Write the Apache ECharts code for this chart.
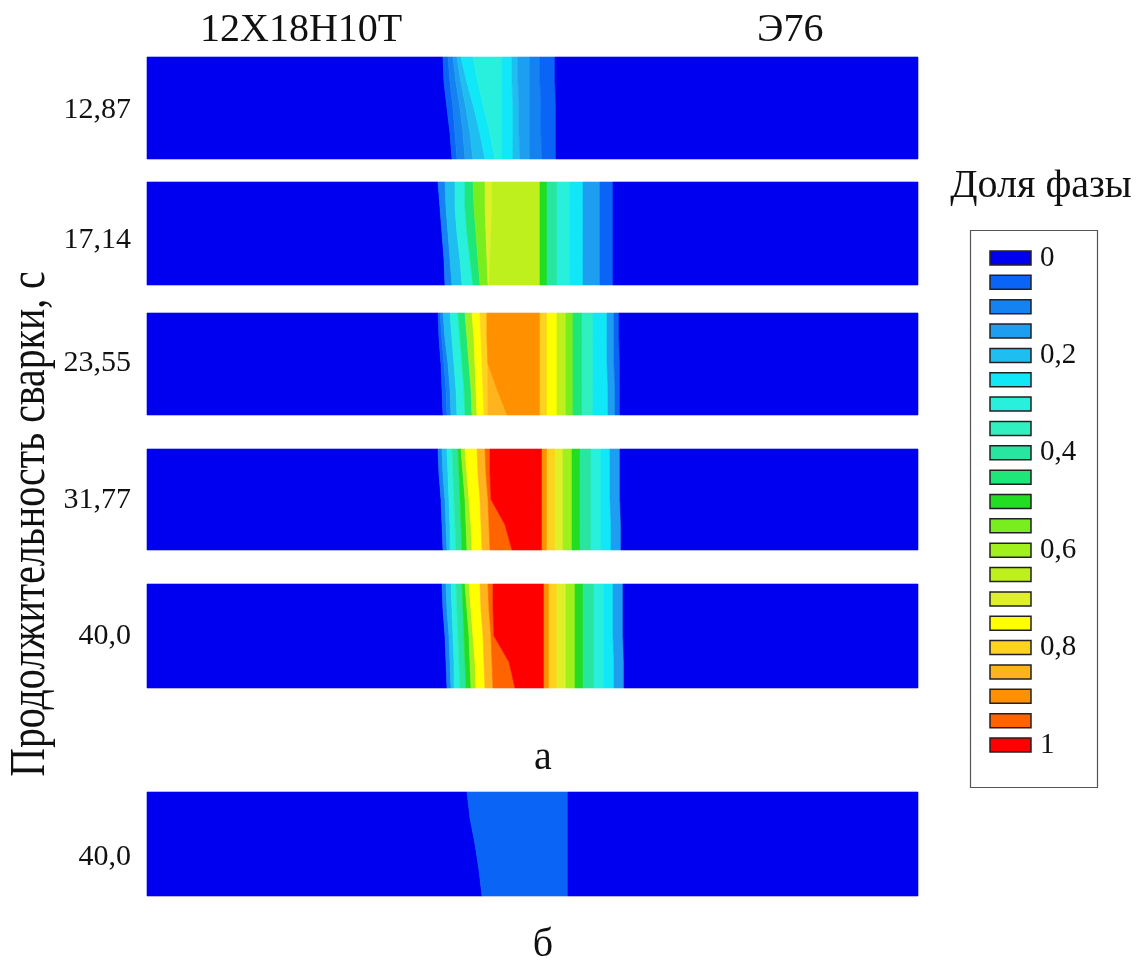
<!DOCTYPE html>
<html>
<head>
<meta charset="utf-8">
<script src="https://cdn.jsdelivr.net/npm/echarts@6/dist/echarts.min.js"></script>
<style>
  html, body { margin: 0; padding: 0; background: #ffffff; }
  #chart { width: 1144px; height: 964px; }
</style>
</head>
<body>
<div id="chart"></div>
<script>
// ---- data -----------------------------------------------------------------
// Heads of the two welded steels
const materials = ['12Х18Н10Т', 'Э76'];
// Welding time of each strip, s
const timeLabels = ['12,87', '17,14', '23,55', '31,77', '40,0', '40,0'];
// Phase-fraction classes of the colour scale and its tick labels
const scaleLevels = [0, 0.05, 0.1, 0.15, 0.2, 0.25, 0.3, 0.35, 0.4, 0.45, 0.5,
                     0.55, 0.6, 0.65, 0.7, 0.75, 0.8, 0.85, 0.9, 0.95, 1];
const scaleTicks = ['0', '0,2', '0,4', '0,6', '0,8', '1'];
const scaleTickIdx = [0, 4, 8, 12, 16, 20];

// Heights (fraction of strip thickness) at which contour positions are given
const ySamples = [1, 0.75, 0.5, 0.25, 0];

// Each strip: phase fraction of every band from left to right, and the
// contour positions between neighbouring bands (position units 0..771,
// one value per ySamples entry, top to bottom).
const levelsA1 = [0, 0.05, 0.1, 0.15, 0.2, 0.25, 0.3, 0.25, 0.2, 0.15, 0.1, 0.05, 0];
const edgesA1 = [
  [296, 297, 300, 303, 305], [301, 303, 306, 308, 310], [306, 309, 313, 316, 318],
  [310, 314, 319, 323, 326], [314, 320, 327, 333, 338], [326, 331, 337, 343, 348],
  [355, 355, 355, 355, 355], [365, 365, 366, 366, 366], [371, 371, 372, 372, 373],
  [383, 383, 383, 383, 383], [393, 393, 394, 394, 395], [408, 408, 409, 409, 409]
];

const levelsA2 = [0, 0.1, 0.2, 0.3, 0.45, 0.55, 0.7, 0.65, 0.5, 0.4, 0.3, 0.25, 0.15, 0.05, 0];
const edgesA2 = [
  [291, 293, 295, 297, 298], [298, 299, 301, 303, 305], [308, 308, 310, 313, 315],
  [318, 318, 320, 323, 326], [326, 327, 329, 331, 333], [338, 338, 339, 340, 341],
  [345, 345, 344, 343, 342],
  [393, 393, 393, 393, 393], [400, 400, 400, 400, 400], [410, 410, 410, 410, 410],
  [423, 423, 423, 423, 423], [436, 436, 436, 436, 436], [453, 453, 453, 453, 453],
  [466, 466, 466, 466, 466]
];

const levelsA3 = [0, 0.05, 0.1, 0.2, 0.3, 0.45, 0.6, 0.75, 0.8, 0.85, 0.9,
                  0.8, 0.75, 0.65, 0.55, 0.45, 0.35, 0.25, 0.15, 0.05, 0];
const edgesA3 = [
  [291, 292, 294, 295, 296], [293, 295, 297, 299, 300], [296, 298, 301, 303, 304],
  [303, 305, 307, 309, 310], [311, 313, 315, 317, 318], [318, 320, 322, 324, 325],
  [325, 327, 328, 329, 330], [333, 334, 335, 336, 337], [340, 340, 341, 341, 341],
  [340, 340, 341, 350, 360],
  [393, 393, 393, 393, 393], [400, 400, 400, 400, 400], [410, 410, 410, 410, 410],
  [419, 419, 419, 419, 419], [426, 426, 426, 426, 426], [435, 435, 435, 435, 435],
  [446, 446, 446, 446, 446], [460, 460, 460, 461, 461], [467, 467, 467, 468, 468],
  [472, 472, 473, 473, 473]
];

const levelsA4 = [0, 0.1, 0.2, 0.3, 0.4, 0.5, 0.6, 0.75, 0.85, 0.95, 1,
                  0.9, 0.8, 0.7, 0.6, 0.5, 0.4, 0.3, 0.25, 0.15, 0];
const edgesA4 = [
  [291, 292, 294, 295, 296], [295, 296, 298, 299, 300], [300, 301, 302, 303, 303],
  [305, 306, 307, 308, 309], [311, 312, 313, 314, 315], [314, 316, 318, 319, 320],
  [318, 320, 322, 324, 325], [330, 331, 333, 334, 335], [338, 339, 341, 342, 343],
  [343, 343, 344, 358, 365],
  [395, 395, 395, 395, 395], [400, 400, 400, 400, 400], [408, 408, 408, 408, 408],
  [416, 416, 416, 416, 416], [425, 425, 425, 425, 425], [433, 433, 433, 433, 433],
  [444, 444, 444, 444, 444], [454, 454, 454, 454, 454], [463, 463, 463, 464, 464],
  [473, 473, 473, 474, 474]
];

const levelsA5 = [0, 0.1, 0.2, 0.3, 0.4, 0.5, 0.6, 0.75, 0.85, 0.95, 1,
                  0.9, 0.8, 0.7, 0.6, 0.5, 0.4, 0.3, 0.25, 0.15, 0];
const edgesA5 = [
  [295, 296, 298, 299, 300], [299, 300, 302, 303, 304], [304, 305, 306, 307, 307],
  [309, 310, 311, 312, 313], [315, 316, 317, 318, 319], [318, 320, 322, 323, 324],
  [322, 324, 326, 328, 329], [333, 334, 336, 337, 338], [341, 342, 344, 345, 346],
  [346, 346, 347, 362, 368],
  [397, 397, 397, 397, 397], [402, 402, 402, 402, 402], [410, 410, 410, 410, 410],
  [419, 419, 419, 419, 419], [428, 428, 428, 428, 428], [436, 436, 436, 436, 436],
  [447, 447, 447, 447, 447], [457, 457, 457, 457, 457], [466, 466, 466, 467, 467],
  [476, 476, 476, 477, 477]
];

const levelsB = [0, 0.05, 0];
const edgesB = [
  [320, 323, 328, 332, 335], [421, 421, 421, 421, 421]
];

// ---- presentation -----------------------------------------------------------
const X_MIN = 0, X_MAX = 771;
const palette = [
  '#0000f0', '#0a64f5', '#1482f0', '#1e9ef0', '#1ebef0', '#10e8f8', '#28f0dc',
  '#30f0c0', '#28e6a0', '#1ee678', '#22dd22', '#78ee1e', '#a0f01e', '#bef01e',
  '#e0f028', '#ffff00', '#ffd21e', '#ffb41e', '#ff9000', '#ff6400', '#ff0000'
];
const serif = '"Liberation Serif", "DejaVu Serif", serif';

const strips = [
  { levels: levelsA1, edges: edgesA1 },
  { levels: levelsA2, edges: edgesA2 },
  { levels: levelsA3, edges: edgesA3 },
  { levels: levelsA4, edges: edgesA4 },
  { levels: levelsA5, edges: edgesA5 },
  { levels: levelsB, edges: edgesB }
];
const stripBoxes = [
  { top: 57, height: 102, labelY: 110 },
  { top: 182, height: 103, labelY: 240 },
  { top: 313, height: 102, labelY: 363 },
  { top: 449, height: 101, labelY: 500 },
  { top: 584, height: 104, labelY: 636 },
  { top: 792, height: 104, labelY: 857 }
];

function colorOf(level) {
  return palette[Math.round(level / 0.05)];
}

function bandRenderer(edges) {
  return function (params, api) {
    const i = api.value(0);
    const level = api.value(1);
    const left = i > 0 ? edges[i - 1] : null;
    const right = i < edges.length ? edges[i] : null;
    const pts = [];
    for (let k = 0; k < ySamples.length; k++) {
      pts.push(api.coord([left ? left[k] : X_MIN, ySamples[k]]));
    }
    for (let k = ySamples.length - 1; k >= 0; k--) {
      pts.push(api.coord([right ? right[k] : X_MAX, ySamples[k]]));
    }
    const c = colorOf(level);
    return {
      type: 'polygon',
      shape: { points: pts },
      style: { fill: c, stroke: c, lineWidth: 0.6 }
    };
  };
}

const grid = [], xAxis = [], yAxis = [], series = [];
strips.forEach((s, k) => {
  const box = stripBoxes[k];
  grid.push({ left: 147, width: 771, top: box.top, height: box.height });
  xAxis.push({ type: 'value', gridIndex: k, min: X_MIN, max: X_MAX, show: false });
  yAxis.push({ type: 'value', gridIndex: k, min: 0, max: 1, show: false });
  series.push({
    type: 'custom',
    coordinateSystem: 'cartesian2d',
    xAxisIndex: k,
    yAxisIndex: k,
    silent: true,
    data: s.levels.map((v, i) => [i, v]),
    renderItem: bandRenderer(s.edges)
  });
});

const graphic = [];
// material names above the strips
graphic.push({ type: 'text', left: 200, top: 10,
  style: { text: materials[0], font: '40px ' + serif, fill: '#111' } });
graphic.push({ type: 'text', left: 757, top: 10,
  style: { text: materials[1], font: '40px ' + serif, fill: '#111' } });
// welding time labels
timeLabels.forEach((t, k) => {
  graphic.push({ type: 'text', x: 131, y: stripBoxes[k].labelY,
    style: { text: t, font: '30px ' + serif, fill: '#111', align: 'right', verticalAlign: 'middle' } });
});
// axis title (tall, narrow lettering)
graphic.push({ type: 'text', x: 31, y: 524, rotation: Math.PI / 2, scaleX: 0.78,
  style: { text: 'Продолжительность сварки, с', font: '51px ' + serif, fill: '#111',
           align: 'center', verticalAlign: 'middle' } });
// panel letters
graphic.push({ type: 'text', x: 543, y: 758,
  style: { text: 'а', font: '40px ' + serif, fill: '#111', align: 'center', verticalAlign: 'middle' } });
graphic.push({ type: 'text', x: 543, y: 945,
  style: { text: 'б', font: '40px ' + serif, fill: '#111', align: 'center', verticalAlign: 'middle' } });
// colour scale
graphic.push({ type: 'text', x: 1041, y: 186,
  style: { text: 'Доля фазы', font: '40px ' + serif, fill: '#111', align: 'center', verticalAlign: 'middle' } });
graphic.push({ type: 'rect', shape: { x: 970.5, y: 230.5, width: 127, height: 557 },
  style: { fill: 'none', stroke: '#555', lineWidth: 1.2 } });
scaleLevels.forEach((v, i) => {
  const cy = 258 + i * 24.35;
  graphic.push({ type: 'rect', shape: { x: 990, y: cy - 7, width: 41, height: 14 },
    style: { fill: colorOf(v), stroke: '#222', lineWidth: 1.5 } });
});
scaleTicks.forEach((t, j) => {
  const cy = 258 + scaleTickIdx[j] * 24.35;
  graphic.push({ type: 'text', x: 1040, y: cy,
    style: { text: t, font: '29px ' + serif, fill: '#111', verticalAlign: 'middle' } });
});

const chart = echarts.init(document.getElementById('chart'), null, { renderer: 'canvas' });
chart.setOption({
  backgroundColor: '#ffffff',
  animation: false,
  grid, xAxis, yAxis, series, graphic
});
</script>
</body>
</html>
